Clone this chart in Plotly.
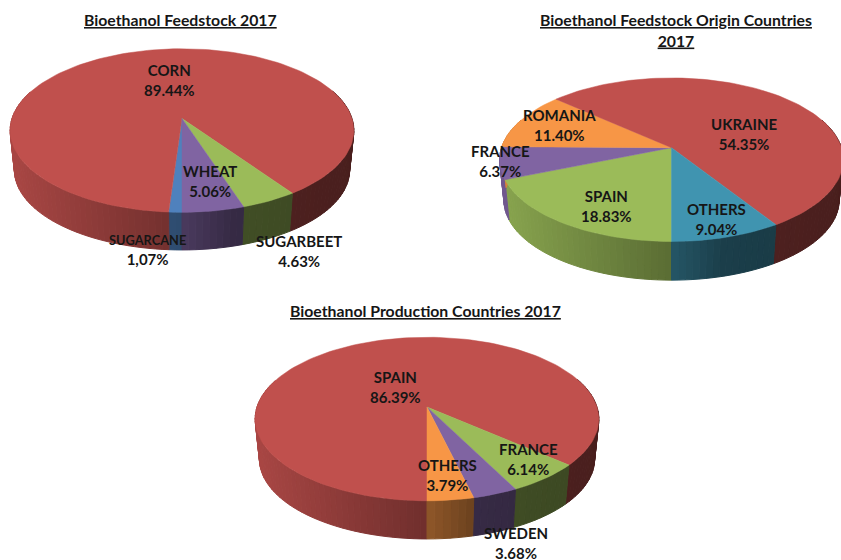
import numpy as np
import plotly.graph_objects as go

# --- data -------------------------------------------------------------
feedstock_names = ["SUGARCANE", "CORN", "SUGARBEET", "WHEAT"]
feedstock_values = [1.07, 89.44, 4.63, 5.06]
feedstock_labels = ["1,07%", "89.44%", "4.63%", "5.06%"]

origin_names = ["SPAIN", "FRANCE", "ROMANIA", "UKRAINE", "OTHERS"]
origin_values = [18.83, 6.37, 11.40, 54.35, 9.04]
origin_labels = ["18.83%", "6.37%", "11.40%", "54.35%", "9.04%"]

production_names = ["SPAIN", "FRANCE", "SWEDEN", "OTHERS"]
production_values = [86.39, 6.14, 3.68, 3.79]
production_labels = ["86.39%", "6.14%", "3.68%", "3.79%"]

# --- style / layout ---------------------------------------------------
RED, GREEN, PURPLE = "#C0504D", "#9BBB59", "#8064A2"
BLUE, ORANGE, TEAL = "#4F81BD", "#F79646", "#4094B0"
FONT = "Lato"
TEXT = "#161616"
X_RAD, Y_RAD, PERSP = 170.0, 80.0, 0.147
RIM_SCALE = 0.975

pies = [
    dict(names=feedstock_names, values=feedstock_values, labels=feedstock_labels,
         colors=[BLUE, RED, GREEN, PURPLE], cx=182, cy=118.5, depth=40,
         label_pos=[(147, 249.5), (169, 80), (299, 250.5), (210, 181)],
         name_size=[12.8, 15, 15, 15]),
    dict(names=origin_names, values=origin_values, labels=origin_labels,
         colors=[GREEN, PURPLE, ORANGE, RED, TEAL], cx=671.5, cy=147.7, depth=41,
         label_pos=[(606, 206), (500, 161), (559, 124.5), (744, 133.5), (716, 218.5)],
         name_size=[15, 15, 15, 15, 15]),
    dict(names=production_names, values=production_values, labels=production_labels,
         colors=[RED, GREEN, PURPLE, ORANGE], cx=427, cy=407, depth=40.5,
         label_pos=[(395, 386.5), (528, 458.5), (516, 543), (447, 474.5)],
         name_size=[15, 15, 15, 15]),
]
titles = [
    ("<u>Bioethanol Feedstock 2017</u>", 180, 19),
    ("<u>Bioethanol Feedstock Origin Countries</u><br><u>2017</u>", 676, 30),
    ("<u>Bioethanol Production Countries 2017</u>", 425, 310.5),
]


def project(theta, cx, cy):
    """theta: clockwise degrees from the bottom of the pie -> screen px."""
    t = np.radians(theta)
    u, v = -np.sin(t), np.cos(t)
    w = 1 - PERSP * v
    return cx + X_RAD * u / w, cy + Y_RAD * v / w


def shade(color, x, cx):
    f = np.interp((x - cx) / 172.0, [-1, 0, 0.3, 1], [0.88, 0.58, 0.42, 0.38])
    r, g, b = (int(color[i:i + 2], 16) for i in (1, 3, 5))
    return f"rgb({r * f:.0f},{g * f:.0f},{b * f:.0f})"


fig = go.Figure()
tops = []
for p in pies:
    total = sum(p["values"])
    edges = np.concatenate([[0], np.cumsum(p["values"]) / total * 360])
    cx, cy, depth = p["cx"], p["cy"], p["depth"]
    for a0, a1, color in zip(edges[:-1], edges[1:], p["colors"]):
        n = max(2, int((a1 - a0) / 2))
        th = np.linspace(a0, a1, n + 1)
        xs, ys = project(th, cx, cy)
        xb = cx + (xs - cx) * RIM_SCALE
        yb = cy + depth + (ys - cy) * RIM_SCALE
        # side wall, as thin strips for the shading
        for i in range(n):
            if np.cos(np.radians((th[i] + th[i + 1]) / 2)) < -0.35:
                continue
            xm = (xs[i] + xs[i + 1]) / 2
            c = shade(color, xm, cx)
            fig.add_trace(go.Scatter(
                x=[xs[i], xs[i + 1], xb[i + 1], xb[i], xs[i]],
                y=[ys[i], ys[i + 1], yb[i + 1], yb[i], ys[i]],
                mode="lines", fill="toself", fillcolor=c, line=dict(color=c, width=1),
                hoverinfo="skip", showlegend=False))
        tops.append((np.r_[cx, xs, cx], np.r_[cy, ys, cy], color))

for x, y, color in tops:
    fig.add_trace(go.Scatter(x=x, y=y, mode="lines", fill="toself", fillcolor=color,
                             line=dict(color=color, width=0.5),
                             hoverinfo="skip", showlegend=False))

ann = []
for p in pies:
    for name, lab, (x, y), sz in zip(p["names"], p["labels"], p["label_pos"], p["name_size"]):
        head = name if sz == 15 else f'<span style="font-size:{sz}px">{name}</span>'
        ann.append(dict(x=x, y=y, xref="x", yref="y", text=f"<b>{head}<br>{lab}</b>",
                        showarrow=False, font=dict(family=FONT, size=15, color=TEXT),
                        xanchor="center", yanchor="middle", align="center"))
for text, x, y in titles:
    ann.append(dict(x=x, y=y, xref="x", yref="y", text=f"<b>{text}</b>", showarrow=False,
                    font=dict(family=FONT, size=15.8, color=TEXT),
                    xanchor="center", yanchor="middle", align="center"))

fig.update_layout(
    width=841, height=560, margin=dict(l=0, r=0, t=0, b=0),
    paper_bgcolor="white", plot_bgcolor="white", showlegend=False, annotations=ann,
    xaxis=dict(range=[0, 841], visible=False, fixedrange=True),
    yaxis=dict(range=[560, 0], visible=False, fixedrange=True),
)
fig.write_html("out.html", post_script="document.body.style.margin='0';",
               config=dict(displayModeBar=False))
